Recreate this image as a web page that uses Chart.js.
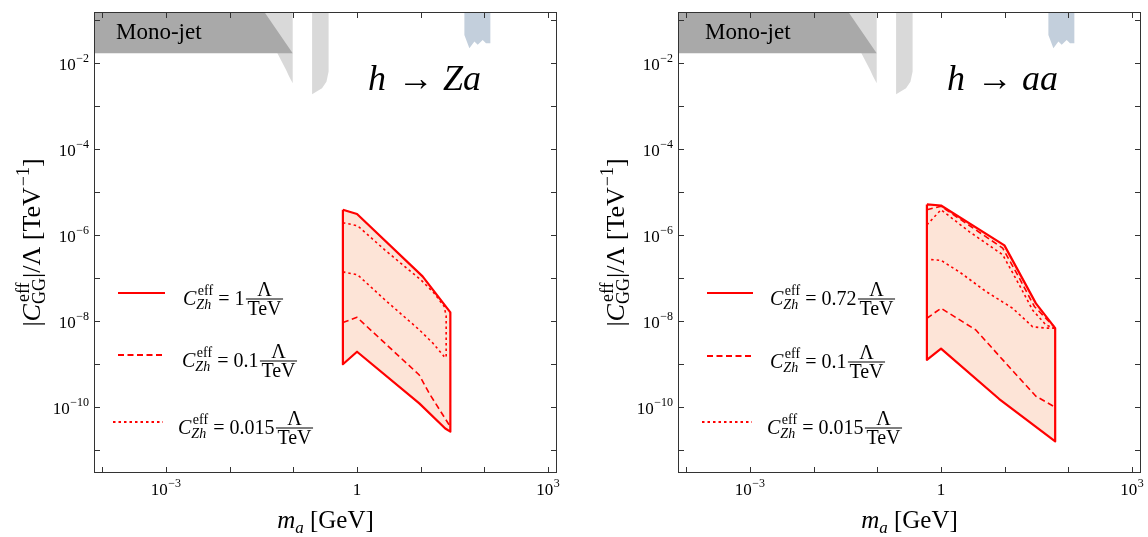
<!DOCTYPE html>
<html>
<head>
<meta charset="utf-8">
<title>h to Za / h to aa</title>
<script src="https://cdn.jsdelivr.net/npm/chart.js@4.4.1/dist/chart.umd.min.js"></script>
<style>
    html, body { margin: 0; padding: 0; background: #fff; }
    .panel { position: absolute; top: 0; width: 564px; height: 537px; }
    #panelZa { left: 0; }
    #panelAa { left: 584px; }
</style>
</head>
<body>
<div class="panel" id="panelZa"><canvas id="chartZa"></canvas></div>
<div class="panel" id="panelAa"><canvas id="chartAa"></canvas></div>
<script>
// axis ranges: m_a [GeV] and |C_GG|/Lambda [TeV^-1]
const xMin = 10 ** -4.13, xMax = 10 ** 3.14;
const yMin = 10 ** -11.53, yMax = 10 ** -0.81;

const xTickMarks = [1e-4, 1e-3, 1e-2, 1e-1, 1, 1e1, 1e2, 1e3];
const xTickLabels = [1e-3, 1, 1e3];
const yTickMarks = [1e-1, 1e-2, 1e-3, 1e-4, 1e-5, 1e-6, 1e-7, 1e-8, 1e-9, 1e-10, 1e-11];
const yTickLabels = [1e-2, 1e-4, 1e-6, 1e-8, 1e-10];

// existing bounds (same in both panels)
const monojetMass = [1e-5, 0.035, 0.035, 0.0977, 1e-5];
const monojetC = [10, 10, 0.156, 0.0171, 0.0171];
const greyAMass = [0.02, 0.0977, 0.0977, 0.0851, 0.0767, 0.0562, 0.035];
const greyAC = [10, 10, 0.0034, 0.0050, 0.0070, 0.0171, 0.156];
const greyBMass = [0.197, 0.358, 0.358, 0.331, 0.282, 0.197];
const greyBC = [10, 10, 0.0064, 0.0037, 0.0026, 0.0019];
const blueMass = [48.5, 58.1, 69.7, 78.5, 94, 106, 124, 124, 48.5];
const blueC = [0.0455, 0.0223, 0.0318, 0.0267, 0.0348, 0.0292, 0.0292, 10, 10];

// h -> Za
const zaMassUp = [0.6, 1, 10.7, 29.2];
const zaC1Up = [3.9e-6, 3.1e-6, 1.1e-7, 1.6e-8];
const zaMassLow = [0.6, 1, 9.5, 24.3, 29.2];
const zaC1Low = [1.0e-9, 1.95e-9, 1.23e-10, 3.2e-11, 2.7e-11];
const zaMassC01Low = [0.6, 1, 9.5, 13.6, 26.5, 29.2];
const zaC01Low = [9.3e-9, 1.23e-8, 5.6e-10, 2.1e-10, 4.4e-11, 3.5e-11];
const zaMassC0015Up = [0.6, 1.02, 2.7, 10.1, 16.2, 23.4, 25.1, 25.1];
const zaC0015Up = [1.95e-6, 1.66e-6, 4.6e-7, 9.1e-8, 4.5e-8, 2.2e-8, 1.3e-8, 1.5e-9];
const zaMassC0015Low = [0.6, 1.02, 2.7, 9.5, 15.5, 23.4];
const zaC0015Low = [1.4e-7, 1.2e-7, 3.2e-8, 6.3e-9, 3.1e-9, 1.5e-9];
const zaCouplings = ['1', '0.1', '0.015'];

// h -> aa
const aaMassUp = [0.6, 1, 9.9, 30.9, 62];
const aaC072Up = [5.2e-6, 4.9e-6, 5.8e-7, 2.6e-8, 6.9e-9];
const aaMassLow = [0.6, 1, 8.2, 62];
const aaC072Low = [1.26e-9, 2.3e-9, 1.55e-10, 1.6e-11];
const aaMassC01Up = [0.6, 1, 9.3, 17, 29.2, 60];
const aaC01Up = [3.9e-6, 4.7e-6, 5.0e-7, 1.0e-7, 2.2e-8, 7.4e-9];
const aaMassC01Low = [0.6, 1, 3.5, 11.7, 30.9, 62];
const aaC01Low = [1.17e-8, 2.0e-8, 6.3e-9, 8.7e-10, 1.8e-10, 1.0e-10];
const aaMassC0015Up = [0.6, 1, 2.8, 9.3, 17, 27.5, 44.7, 60];
const aaC0015Up = [1.74e-6, 3.9e-6, 1.2e-6, 3.5e-7, 6.9e-8, 1.8e-8, 8.1e-9, 6.9e-9];
const aaMassC0015Low = [0.7, 1, 1.94, 5.1, 13.3, 27.5, 44.7, 60];
const aaC0015Low = [2.7e-7, 2.6e-7, 1.4e-7, 4.9e-8, 2.0e-8, 7.4e-9, 6.9e-9, 6.9e-9];
const aaCouplings = ['0.72', '0.1', '0.015'];

const RED = '#ff0000';
const REGION = '#fde4d7';
const SERIF = '"Liberation Serif", "Times New Roman", serif';
const DASHED = [6, 3.5];
const DOTTED = [2.5, 3];

const font = (size, italic) => (italic ? 'italic ' : '') + size + 'px ' + SERIF;
const pts = (xs, ys) => xs.map((x, i) => ({ x: x, y: ys[i] }));

function polygon(xUp, yUp, xLow, yLow) {
    const p = pts(xUp, yUp).concat(pts(xLow, yLow).reverse());
    p.push(p[0]);
    return p;
}

function shape(data, color, order) {
    return { data: data, fill: 'shape', backgroundColor: color, borderColor: 'rgba(0,0,0,0)',
             borderWidth: 0, pointRadius: 0, order: order };
}

function curve(data, width, dash, order) {
    return { data: data, fill: false, borderColor: RED, borderWidth: width, borderDash: dash,
             borderJoinStyle: 'round', pointRadius: 0, order: order };
}

function exclusionSets() {
    return [
        shape(pts(blueMass, blueC), '#c3cfdc', 20),
        shape(pts(greyAMass, greyAC), '#d9d9d9', 20),
        shape(pts(greyBMass, greyBC), '#d9d9d9', 20),
        shape(pts(monojetMass, monojetC), '#a9a9a9', 19)
    ];
}

// rich text: list of columns, each column a list of pieces drawn at the same x
function drawRich(ctx, cols, x, y, align) {
    const widths = cols.map(col => Math.max(...col.map(p => {
        ctx.font = p.f;
        return ctx.measureText(p.t).width + (p.dx || 0) + (p.pad || 0);
    })));
    const total = widths.reduce((s, w) => s + w, 0);
    let cx = align === 'center' ? x - total / 2 : (align === 'right' ? x - total : x);
    ctx.textAlign = 'left';
    ctx.textBaseline = 'alphabetic';
    cols.forEach((col, i) => {
        col.forEach(p => {
            ctx.font = p.f;
            ctx.fillText(p.t, cx + (p.dx || 0), y + (p.dy || 0));
        });
        cx += widths[i];
    });
    return cx;
}

function powerCols(v) {
    const e = Math.round(Math.log10(v));
    if (e === 0) return [[{ t: '1', f: font(17) }]];
    const exp = (e < 0 ? '\u2212' : '') + Math.abs(e);
    return [[{ t: '10', f: font(17) }], [{ t: exp, f: font(12), dy: -8, dx: 0.5 }]];
}

function drawLegendRow(ctx, row, value) {
    ctx.save();
    ctx.strokeStyle = RED;
    ctx.lineWidth = row.dash.length ? 1.8 : 2.2;
    ctx.setLineDash(row.dash);
    ctx.beginPath();
    ctx.moveTo(row.x0, row.y);
    ctx.lineTo(row.x1, row.y);
    ctx.stroke();
    ctx.restore();

    const base = row.y + 11.5;
    const end = drawRich(ctx, [
        [{ t: 'C', f: font(20, true) }],
        [{ t: 'eff', f: font(14), dy: -10, dx: 1.5 }, { t: 'Zh', f: font(14, true), dy: 4 }],
        [{ t: ' = ' + value, f: font(20) }]
    ], row.tx, base, 'left');

    ctx.font = font(20);
    const wL = ctx.measureText('\u039b').width;
    const wT = ctx.measureText('TeV').width;
    const barW = Math.max(wL, wT) + 3;
    const barY = row.y + 6;
    const cx = end + 1.5 + barW / 2;
    ctx.fillRect(end + 1.5, barY - 0.5, barW, 1);
    ctx.fillText('\u039b', cx - wL / 2, barY - 3);
    ctx.fillText('TeV', cx - wT / 2, barY + 15.5);
}

function decorPlugin(panel) {
    return {
        id: 'decor',
        afterDraw(chart) {
            const { ctx, chartArea: a } = chart;
            const xs = chart.scales.x, ys = chart.scales.y;
            ctx.save();
            ctx.fillStyle = '#000';

            // mono-jet label and channel label
            drawRich(ctx, [[{ t: 'Mono-jet', f: font(23) }]], panel.monoX, 39, 'left');
            drawRich(ctx, [[{ t: 'h', f: font(36, true) }]], panel.labelX, 90, 'left');
            drawRich(ctx, [[{ t: '\u2192', f: font(36) }]], panel.labelX + 30, 90, 'left');
            drawRich(ctx, [[{ t: panel.channel, f: font(36, true) }]], panel.labelX + 75, 90, 'left');

            // legend
            panel.legend.forEach((row, i) => drawLegendRow(ctx, row, panel.couplings[i]));

            // frame and inward ticks
            ctx.strokeStyle = '#333';
            ctx.lineWidth = 1;
            ctx.setLineDash([]);
            ctx.strokeRect(a.left + 0.5, a.top + 0.5, a.right - a.left - 1, a.bottom - a.top - 1);
            ctx.beginPath();
            xTickMarks.forEach(v => {
                const px = Math.round(xs.getPixelForValue(v)) + 0.5;
                ctx.moveTo(px, a.bottom); ctx.lineTo(px, a.bottom - 6);
                ctx.moveTo(px, a.top); ctx.lineTo(px, a.top + 6);
            });
            yTickMarks.forEach(v => {
                const py = Math.round(ys.getPixelForValue(v)) + 0.5;
                ctx.moveTo(a.left, py); ctx.lineTo(a.left + 6, py);
                ctx.moveTo(a.right, py); ctx.lineTo(a.right - 6, py);
            });
            ctx.stroke();

            // tick labels
            ctx.fillStyle = '#000';
            xTickLabels.forEach(v => drawRich(ctx, powerCols(v), xs.getPixelForValue(v), 495, 'center'));
            yTickLabels.forEach(v => drawRich(ctx, powerCols(v), a.left - 5, ys.getPixelForValue(v) + 6.5, 'right'));

            // axis titles
            drawRich(ctx, [
                [{ t: 'm', f: font(25, true) }],
                [{ t: 'a', f: font(17, true), dy: 5 }],
                [{ t: ' [GeV]', f: font(25) }]
            ], (a.left + a.right) / 2, 528, 'center');

            ctx.translate(33, (a.top + a.bottom) / 2);
            ctx.rotate(-Math.PI / 2);
            drawRich(ctx, [
                [{ t: '|', f: font(26) }],
                [{ t: 'C', f: font(26, true) }],
                [{ t: 'eff', f: font(18), dy: -11, dx: 2 }, { t: 'GG', f: font(18), dy: 5 }],
                [{ t: '|/\u039b [TeV', f: font(26) }],
                [{ t: '\u22121', f: font(18), dy: -11, dx: 1 }],
                [{ t: ']', f: font(26) }]
            ], 0, 7, 'center');
            ctx.restore();
        }
    };
}

function buildPanel(canvasId, panel) {
    const ctx = document.getElementById(canvasId).getContext('2d');
    return new Chart(ctx, {
        type: 'line',
        data: { datasets: exclusionSets().concat(panel.datasets) },
        options: {
            responsive: true,
            maintainAspectRatio: false,
            animation: false,
            devicePixelRatio: 1,
            events: [],
            layout: { padding: { top: 12, right: 7, left: 0, bottom: 0 } },
            plugins: { legend: { display: false }, tooltip: { enabled: false } },
            scales: {
                x: {
                    type: 'logarithmic', min: xMin, max: xMax, bounds: 'data',
                    grid: { display: false }, border: { display: false }, ticks: { display: false },
                    afterFit: s => { s.height = 64; }
                },
                y: {
                    type: 'logarithmic', min: yMin, max: yMax, bounds: 'data',
                    grid: { display: false }, border: { display: false }, ticks: { display: false },
                    afterFit: s => { s.width = 94; }
                }
            }
        },
        plugins: [decorPlugin(panel)]
    });
}

const zaOutline = polygon(zaMassUp, zaC1Up, zaMassLow, zaC1Low);
buildPanel('chartZa', {
    channel: 'Za',
    monoX: 116,
    labelX: 368,
    couplings: zaCouplings,
    legend: [
        { x0: 118, x1: 165, y: 293, tx: 183, dash: [] },
        { x0: 118, x1: 165, y: 355, tx: 182, dash: DASHED },
        { x0: 113, x1: 163, y: 422, tx: 178, dash: DOTTED }
    ],
    datasets: [
        shape(zaOutline, REGION, 15),
        curve(pts(zaMassC0015Up, zaC0015Up), 1.6, DOTTED, 4),
        curve(pts(zaMassC0015Low, zaC0015Low), 1.6, DOTTED, 4),
        curve(pts(zaMassC01Low, zaC01Low), 1.6, DASHED, 3),
        curve(zaOutline, 2.2, [], 1)
    ]
});

const aaOutline = polygon(aaMassUp, aaC072Up, aaMassLow, aaC072Low);
buildPanel('chartAa', {
    channel: 'aa',
    monoX: 121,
    labelX: 363,
    couplings: aaCouplings,
    legend: [
        { x0: 123, x1: 169, y: 293, tx: 186, dash: [] },
        { x0: 123, x1: 169, y: 356, tx: 186, dash: DASHED },
        { x0: 118, x1: 168, y: 422, tx: 183, dash: DOTTED }
    ],
    datasets: [
        shape(aaOutline, REGION, 15),
        curve(pts(aaMassC0015Up, aaC0015Up), 1.6, DOTTED, 4),
        curve(pts(aaMassC0015Low, aaC0015Low), 1.6, DOTTED, 4),
        curve(pts(aaMassC01Up, aaC01Up), 1.6, DASHED, 3),
        curve(pts(aaMassC01Low, aaC01Low), 1.6, DASHED, 3),
        curve(aaOutline, 2.2, [], 1)
    ]
});
</script>
</body>
</html>
